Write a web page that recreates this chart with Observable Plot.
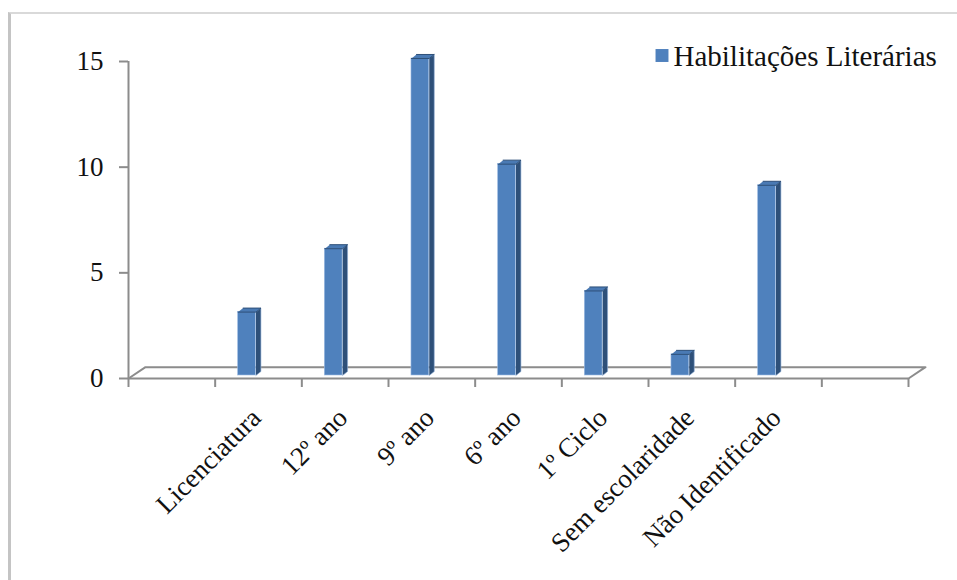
<!DOCTYPE html>
<html>
<head>
<meta charset="utf-8">
<script src="https://cdn.jsdelivr.net/npm/d3@7"></script>
<script src="https://cdn.jsdelivr.net/npm/@observablehq/plot@0.6"></script>
<style>
  html, body { margin: 0; padding: 0; background: #fff; }
  #wrap { position: relative; width: 957px; height: 580px; overflow: hidden; }
  #frame { position: absolute; left: 8px; top: 12px; right: -4px; bottom: -4px;
           border-left: 3px solid #c4c4c4; border-top: 2px solid #d9d9d9; }
  #chart { position: absolute; left: 0; top: 0; }
</style>
</head>
<body>
<div id="wrap">
  <div id="frame"></div>
  <div id="chart"></div>
</div>
<script>
// Education levels and their counts
const categories = ["Licenciatura", "12º ano", "9º ano", "6º ano", "1º Ciclo", "Sem escolaridade", "Não Identificado"];
const values = [3, 6, 15, 10, 4, 1, 9];
const yTicks = [0, 5, 10, 15];
const seriesName = "Habilitações Literárias";

// Category slots: one empty slot on each side of the categories
const nSlots = categories.length + 2;
const rows = categories.map((c, i) => ({category: c, value: values[i], slot: i + 1}));

// 3-D look: column face offsets expressed in slot / value units
const FRONT_L = 0.235, FRONT_R = 0.03;   // front face, relative to slot centre
const DEPTH_X = 0.058, DEPTH_Y = 0.19;   // side/top depth
const BASE = 0.142;                      // columns stand slightly behind the front edge
const FLOOR_X = 0.196, FLOOR_Y = 0.535;  // floor depth

const sides = rows.flatMap(d => {
  const xr = d.slot + 0.5 - FRONT_R;
  return [
    {id: d.slot, x: xr, y: BASE},
    {id: d.slot, x: xr + DEPTH_X, y: BASE + DEPTH_Y},
    {id: d.slot, x: xr + DEPTH_X, y: d.value + BASE + DEPTH_Y},
    {id: d.slot, x: xr, y: d.value + BASE}
  ];
});
const tops = rows.flatMap(d => {
  const xl = d.slot + 0.5 - FRONT_L, xr = d.slot + 0.5 - FRONT_R, v = d.value + BASE;
  return [
    {id: d.slot, x: xl, y: v},
    {id: d.slot, x: xr, y: v},
    {id: d.slot, x: xr + DEPTH_X, y: v + DEPTH_Y},
    {id: d.slot, x: xl + DEPTH_X, y: v + DEPTH_Y}
  ];
});
const floor = [
  {x: 0, y: 0},
  {x: FLOOR_X, y: FLOOR_Y},
  {x: nSlots + FLOOR_X, y: FLOOR_Y},
  {x: nSlots, y: 0}
];

const grey = "#8c8c8c";
const font = "'Liberation Serif', 'Times New Roman', serif";

const chart = Plot.plot({
  width: 957,
  height: 580,
  marginLeft: 128,
  marginRight: 49,
  marginTop: 61,
  marginBottom: 202,
  style: {fontFamily: font, background: "transparent", color: "#111"},
  x: {domain: [0, nSlots], axis: null},
  y: {domain: [0, d3.max(yTicks)], axis: null},
  marks: [
    // floor of the 3-D plot area
    Plot.line(floor, {x: "x", y: "y", stroke: grey, strokeWidth: 2}),
    Plot.ruleY([0], {x1: 0, x2: nSlots, stroke: grey, strokeWidth: 2}),
    Plot.ruleX([0], {y1: 0, y2: d3.max(yTicks), stroke: grey, strokeWidth: 2}),
    Plot.axisY({ticks: yTicks, tickSize: 9, tickPadding: 16, fontSize: 27, label: null,
                fontFamily: font, stroke: grey, strokeWidth: 2, fill: "#111"}),
    Plot.axisX({ticks: d3.range(nSlots + 1), tickSize: 9, tickFormat: () => "", label: null,
                stroke: grey, strokeWidth: 2}),
    // columns: side face, front face, top face
    Plot.line(sides, {x: "x", y: "y", z: "id", fill: "#2e5079", stroke: "#8eaed6", strokeWidth: 0.6}),
    Plot.rect(rows, {
      x1: d => d.slot + 0.5 - FRONT_L,
      x2: d => d.slot + 0.5 - FRONT_R,
      y1: BASE,
      y2: d => d.value + BASE,
      fill: "#4f81bd", stroke: "#9fbde3", strokeWidth: 0.6
    }),
    Plot.line(tops, {x: "x", y: "y", z: "id", fill: "#4a7ab4", stroke: "#2e5079", strokeWidth: 1}),
    // rotated category labels
    Plot.text(rows, {
      x: d => d.slot + 0.5, frameAnchor: "bottom", text: "category",
      rotate: -45, textAnchor: "end", lineAnchor: "bottom", dx: 4, dy: 41,
      fontSize: 27, fontFamily: font, fill: "#111"
    }),
    // legend
    Plot.dot([seriesName], {frameAnchor: "top-left", dx: 533.5, dy: -6, symbol: "square", r: 7.3, fill: "#4f81bd"}),
    Plot.text([seriesName], {frameAnchor: "top-left", dx: 545, dy: -5, textAnchor: "start",
                             lineAnchor: "middle", fontSize: 29, fontFamily: font, fill: "#111"})
  ]
});

document.getElementById("chart").append(chart);
</script>
</body>
</html>
